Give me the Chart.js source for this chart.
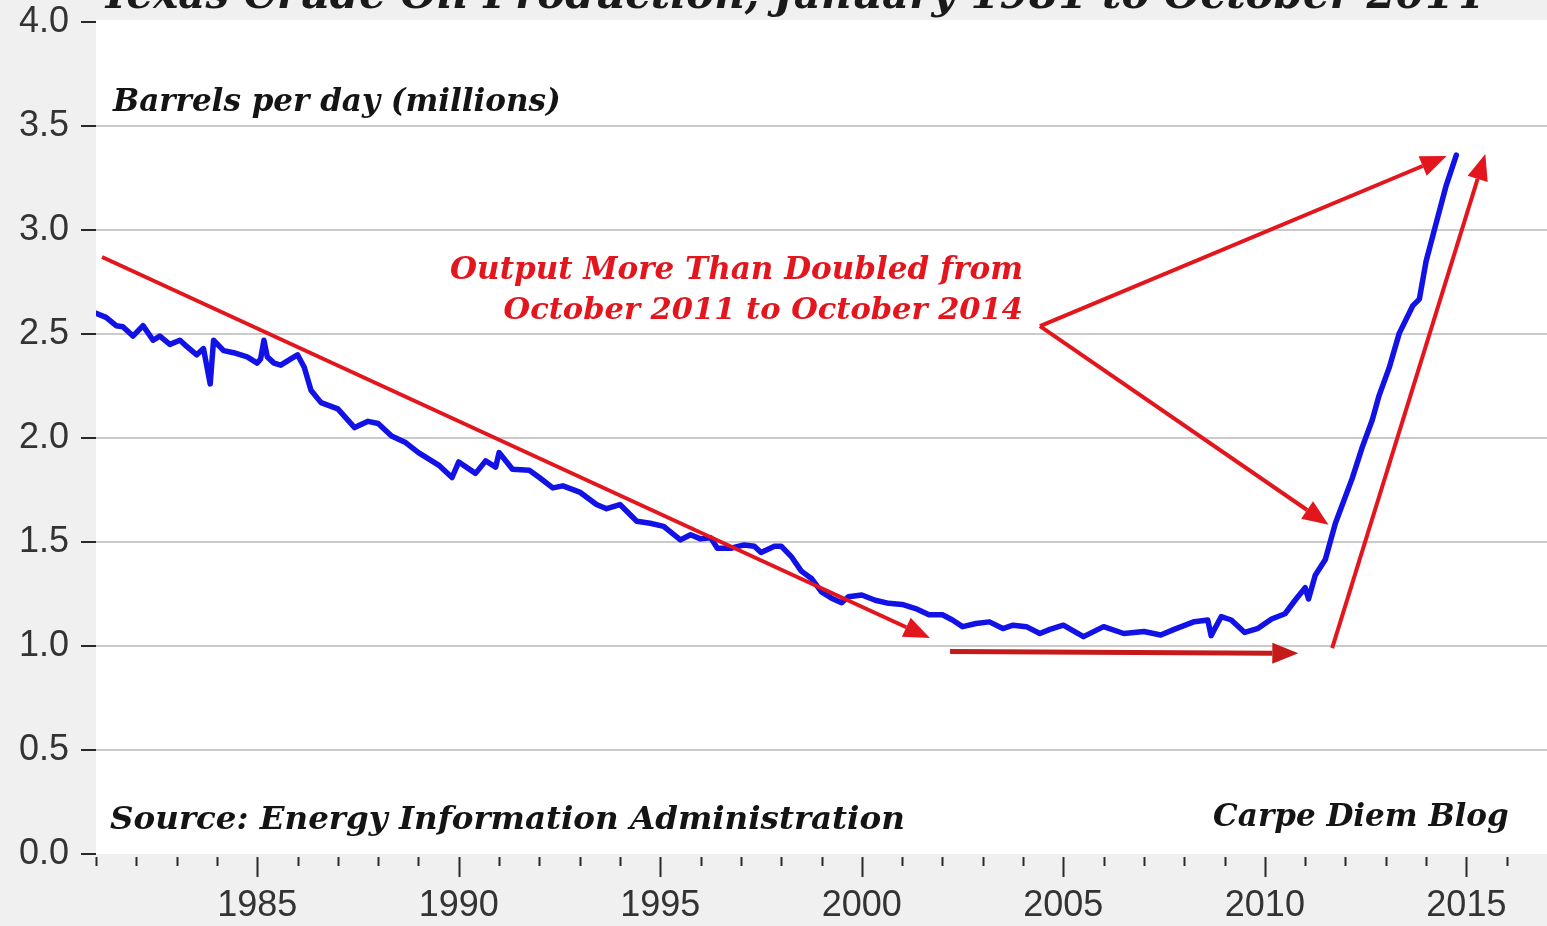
<!DOCTYPE html>
<html>
<head>
<meta charset="utf-8">
<script src="https://cdn.jsdelivr.net/npm/chart.js@4.4.1/dist/chart.umd.min.js"></script>
<style>
  html, body { margin: 0; padding: 0; background: #f0f0f0; }
  #wrap { width: 1547px; height: 926px; }
</style>
</head>
<body>
<div id="wrap"><canvas id="oilChart"></canvas></div>
<script>
// Texas crude oil production, millions of barrels per day
const months = [
  "1981-01", "1981-04", "1981-07", "1981-09", "1981-12", "1982-03", "1982-06", "1982-08",
  "1982-11", "1983-02", "1983-04", "1983-07", "1983-09", "1983-11", "1983-12", "1984-03",
  "1984-06", "1984-10", "1985-01", "1985-02", "1985-03", "1985-04", "1985-06", "1985-08",
  "1985-11", "1986-01", "1986-03", "1986-05", "1986-08", "1987-01", "1987-06", "1987-10",
  "1988-01", "1988-05", "1988-09", "1989-01", "1989-04", "1989-07", "1989-11", "1990-01",
  "1990-06", "1990-09", "1990-12", "1991-01", "1991-05", "1991-10", "1992-01", "1992-05",
  "1992-08", "1993-01", "1993-06", "1993-09", "1994-01", "1994-06", "1994-10", "1995-02",
  "1995-07", "1995-10", "1996-01", "1996-04", "1996-06", "1996-10", "1997-02", "1997-05",
  "1997-07", "1997-11", "1998-01", "1998-04", "1998-07", "1998-10", "1999-01", "1999-04",
  "1999-07", "1999-09", "2000-01", "2000-05", "2000-09", "2001-01", "2001-05", "2001-09",
  "2002-01", "2002-04", "2002-07", "2002-11", "2003-03", "2003-07", "2003-10", "2004-02",
  "2004-06", "2004-09", "2005-01", "2005-07", "2006-01", "2006-07", "2007-01", "2007-06",
  "2007-10", "2008-04", "2008-08", "2008-09", "2008-12", "2009-03", "2009-07", "2009-11",
  "2010-03", "2010-07", "2010-10", "2011-01", "2011-02", "2011-04", "2011-07", "2011-10",
  "2012-03", "2012-06", "2012-09", "2012-11", "2013-02", "2013-05", "2013-09", "2013-11",
  "2014-01", "2014-04", "2014-07", "2014-10",
];
const output = [
  2.60, 2.58, 2.54, 2.535, 2.49, 2.54, 2.47, 2.49,
  2.45, 2.47, 2.44, 2.40, 2.43, 2.26, 2.47, 2.42,
  2.41, 2.39, 2.36, 2.38, 2.47, 2.39, 2.36, 2.35,
  2.38, 2.40, 2.34, 2.23, 2.17, 2.14, 2.05, 2.08,
  2.07, 2.01, 1.98, 1.93, 1.90, 1.87, 1.81, 1.885,
  1.83, 1.89, 1.86, 1.93, 1.85, 1.845, 1.81, 1.76,
  1.77, 1.74, 1.68, 1.66, 1.68, 1.60, 1.59, 1.575,
  1.51, 1.535, 1.515, 1.52, 1.47, 1.47, 1.486, 1.48,
  1.45, 1.48, 1.48, 1.43, 1.36, 1.325, 1.26, 1.23,
  1.208, 1.237, 1.245, 1.22, 1.205, 1.20, 1.18, 1.15,
  1.15, 1.125, 1.093, 1.108, 1.116, 1.084, 1.10, 1.093,
  1.06, 1.08, 1.10, 1.045, 1.093, 1.06, 1.07, 1.053,
  1.08, 1.117, 1.125, 1.05, 1.141, 1.125, 1.065, 1.085,
  1.13, 1.155, 1.22, 1.28, 1.226, 1.34, 1.416, 1.59,
  1.806, 1.956, 2.088, 2.204, 2.337, 2.503, 2.635, 2.668,
  2.85, 3.033, 3.215, 3.36,
];

const yearMin = 1981;
const yearMax = 2017;
const labelEvery = 5;
const valueMax = 4.0;
const valueStep = 0.5;

// annotation arrows, [year, value] pairs
const arrowStarts = [[1981.15, 2.87], [2002.19, 0.973], [2011.67, 0.99], [2004.42, 2.538], [2004.42, 2.538]];
const arrowEnds = [[2001.69, 1.038], [2010.83, 0.965], [2015.47, 3.365], [2014.51, 3.356], [2011.58, 1.583]];

const titleText = "Texas Crude Oil Production, January 1981 to October 2014";
const unitText = "Barrels per day (millions)";
const sourceText = "Source: Energy Information Administration";
const blogText = "Carpe Diem Blog";
const calloutLines = ["Output More Than Doubled from", "October 2011 to October 2014"];

const toYear = (m) => {
  const [y, mo] = m.split("-").map(Number);
  return y + (mo - 1) / 12;
};

const RED = "#e3161e";
const DARK_RED = "#c41a1a";
const serif = (size) => `italic bold ${size}px 'DejaVu Serif', Georgia, serif`;

function drawArrow(ctx, x0, y0, x1, y1, color, width, headLen, headWidth) {
  const ang = Math.atan2(y1 - y0, x1 - x0);
  const bx = x1 - headLen * Math.cos(ang);
  const by = y1 - headLen * Math.sin(ang);
  ctx.save();
  ctx.strokeStyle = color;
  ctx.fillStyle = color;
  ctx.lineWidth = width;
  ctx.beginPath();
  ctx.moveTo(x0, y0);
  ctx.lineTo(bx, by);
  ctx.stroke();
  ctx.beginPath();
  ctx.moveTo(x1, y1);
  ctx.lineTo(bx + (headWidth / 2) * Math.sin(ang), by - (headWidth / 2) * Math.cos(ang));
  ctx.lineTo(bx - (headWidth / 2) * Math.sin(ang), by + (headWidth / 2) * Math.cos(ang));
  ctx.closePath();
  ctx.fill();
  ctx.restore();
}

const backdrop = {
  id: "backdrop",
  beforeDraw(chart) {
    const { ctx, chartArea: a } = chart;
    ctx.save();
    ctx.fillStyle = "#f0f0f0";
    ctx.fillRect(0, 0, chart.width, chart.height);
    ctx.fillStyle = "#ffffff";
    ctx.fillRect(a.left, a.top - 2, a.right - a.left, a.bottom - a.top + 2);
    ctx.restore();
  },
};

const yearTicks = {
  id: "yearTicks",
  afterDraw(chart) {
    const { ctx, chartArea: a } = chart;
    const xs = chart.scales.x;
    ctx.save();
    ctx.strokeStyle = "#2a2a2a";
    ctx.lineWidth = 2;
    xs.ticks.forEach((t) => {
      if (t.value >= yearMax) return;
      const px = Math.round(xs.getPixelForValue(t.value)) + 0.5;
      const len = t.value % labelEvery === 0 ? 20 : 9;
      ctx.beginPath();
      ctx.moveTo(px, a.bottom + 3);
      ctx.lineTo(px, a.bottom + 3 + len);
      ctx.stroke();
    });
    ctx.restore();
  },
};

const notes = {
  id: "notes",
  afterDatasetsDraw(chart) {
    const { ctx } = chart;
    const xs = chart.scales.x;
    const ys = chart.scales.y;
    const px = (v) => xs.getPixelForValue(v);
    const py = (v) => ys.getPixelForValue(v);

    arrowStarts.forEach((s, i) => {
      const e = arrowEnds[i];
      const horizontal = i === 1;
      drawArrow(ctx, px(s[0]), py(s[1]), px(e[0]), py(e[1]),
        horizontal ? DARK_RED : RED, horizontal ? 5 : 4, 26, 21);
    });

    ctx.save();
    ctx.textBaseline = "alphabetic";
    ctx.fillStyle = "#141414";
    ctx.textAlign = "left";
    ctx.font = serif(31);
    ctx.fillText(unitText, px(1981.42), py(3.572));
    ctx.font = serif(32.5);
    ctx.fillText(sourceText, px(1981.35), py(0.12));
    ctx.textAlign = "right";
    ctx.font = serif(31);
    ctx.fillText(blogText, px(2016.05), py(0.135));
    ctx.fillStyle = RED;
    ctx.fillText(calloutLines[0], px(2004.0), py(2.765));
    ctx.font = serif(30.5);
    ctx.fillText(calloutLines[1], px(2004.0), py(2.572));
    ctx.restore();

    ctx.save();
    ctx.font = serif(42);
    ctx.fillStyle = "#1a1a1a";
    ctx.textAlign = "left";
    ctx.textBaseline = "alphabetic";
    ctx.fillText(titleText, 100, 8);
    ctx.restore();
  },
};

const ctx = document.getElementById("oilChart").getContext("2d");

new Chart(ctx, {
  type: "line",
  data: {
    datasets: [
      {
        label: "Texas crude oil production",
        data: months.map((m, i) => ({ x: toYear(m), y: output[i] })),
        borderColor: "#1212e6",
        borderWidth: 5.5,
        pointRadius: 0,
        tension: 0,
        borderJoinStyle: "round",
        borderCapStyle: "round",
      },
    ],
  },
  options: {
    responsive: true,
    maintainAspectRatio: false,
    animation: false,
    layout: { autoPadding: false, padding: { top: 22, right: 0, bottom: 0, left: 0 } },
    scales: {
      x: {
        type: "linear",
        min: yearMin,
        max: yearMax,
        afterFit: (scale) => {
          scale.height = 72;
          scale.paddingLeft = 0;
          scale.paddingRight = 0;
        },
        border: { display: false },
        grid: { display: false, drawTicks: true, tickLength: 20 },
        ticks: {
          stepSize: 1,
          autoSkip: false,
          maxRotation: 0,
          padding: 10,
          color: "#333333",
          font: { family: "'Liberation Sans', Arial, sans-serif", size: 36 },
          callback: (v) => (v % labelEvery === 0 ? String(v) : ""),
        },
      },
      y: {
        min: 0,
        max: valueMax,
        afterFit: (scale) => {
          scale.width = 96;
          scale.paddingTop = 0;
          scale.paddingBottom = 0;
        },
        border: { display: false },
        grid: {
          color: (c) => (c.tick && (c.tick.value === 0 || c.tick.value === valueMax) ? "rgba(0,0,0,0)" : "#cacaca"),
          lineWidth: 2,
          tickColor: "#2a2a2a",
          tickLength: 15,
          tickWidth: 2,
        },
        ticks: {
          stepSize: valueStep,
          padding: 12,
          color: "#333333",
          font: { family: "'Liberation Sans', Arial, sans-serif", size: 36 },
          callback: (v) => v.toFixed(1),
        },
      },
    },
    plugins: {
      legend: { display: false },
      tooltip: { enabled: false },
    },
  },
  plugins: [backdrop, yearTicks, notes],
});
</script>
</body>
</html>
